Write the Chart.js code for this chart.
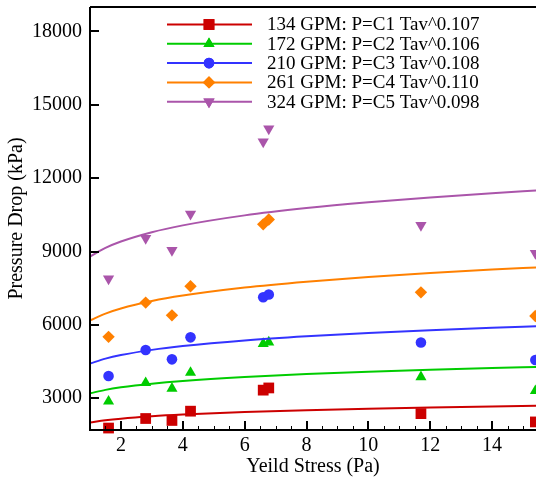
<!DOCTYPE html>
<html>
<head>
<meta charset="utf-8">
<script src="https://cdn.jsdelivr.net/npm/chart.js@4.4.1/dist/chart.umd.min.js"></script>
<style>
  html, body { margin:0; padding:0; background:#fff; }
  #wrap { width:536px; height:480px; }
</style>
</head>
<body>
<div id="wrap"><canvas id="chart"></canvas></div>
<script>

/* =========================================
   DATA
========================================= */

const seriesLabels = [
  "134 GPM: P=C1 Tav^0.107",
  "172 GPM: P=C2 Tav^0.106",
  "210 GPM: P=C3 Tav^0.108",
  "261 GPM: P=C4 Tav^0.110",
  "324 GPM: P=C5 Tav^0.098"
];

// measured points (yield stress, Pa)
const xStress = [1.6, 2.8, 3.65, 4.25, 6.6, 6.78, 11.7, 15.4];

const p134 = [1780, 2170, 2090, 2470, 3330, 3420, 2370, 2030];
const p172 = [2870, 3630, 3400, 4050, 5230, 5290, 3870, 3300];
const p210 = [3910, 4970, 4590, 5490, 7130, 7240, 5280, 4560];
const p261 = [5510, 6910, 6390, 7580, 10110, 10310, 7330, 6360];
const p324 = [7890, 9540, 9050, 10530, 13490, 14020, 10070, 8930];

// fitted curves
const fitX = [1, 1.5, 2, 3, 4, 6, 8, 10, 12, 14, 15.5];

const fit134 = [2010, 2099, 2165, 2261, 2331, 2435, 2511, 2572, 2622, 2666, 2695];
const fit172 = [3200, 3341, 3444, 3595, 3707, 3869, 3989, 4085, 4164, 4233, 4279];
const fit210 = [4420, 4618, 4764, 4977, 5134, 5364, 5533, 5668, 5781, 5878, 5943];
const fit261 = [6180, 6462, 6669, 6974, 7198, 7527, 7768, 7962, 8122, 8261, 8355];
const fit324 = [8790, 9146, 9408, 9789, 10069, 10478, 10777, 11015, 11213, 11384, 11498];

const xTicks = [2, 4, 6, 8, 10, 12, 14];
const yTicks = [3000, 6000, 9000, 12000, 15000, 18000];


/* =========================================
   STYLE
========================================= */

const colors   = ['#cc0000', '#00cc00', '#3333ff', '#ff8000', '#aa55aa'];
const shapes   = ['rect', 'triangle', 'circle', 'rectRot', 'triangle'];
const radii    = [7.6, 6.4, 5.3, 6.2, 6.5];
const rotation = [0, 0, 0, 0, 180];

const pointSets = [p134, p172, p210, p261, p324];
const fitSets   = [fit134, fit172, fit210, fit261, fit324];

const FONT = "'Liberation Serif', 'Times New Roman', serif";

function toXY(xs, ys){
  return xs.map((x,i) => ({x:x, y:ys[i]}));
}

const datasets = [];

fitSets.forEach((ys,i) => {
  datasets.push({
    type:'line',
    label:seriesLabels[i],
    data:toXY(fitX, ys),
    borderColor:colors[i],
    borderWidth:2,
    pointRadius:0,
    fill:false,
    cubicInterpolationMode:'monotone'
  });
});

pointSets.forEach((ys,i) => {
  datasets.push({
    type:'scatter',
    label:seriesLabels[i] + ' data',
    data:toXY(xStress, ys),
    showLine:false,
    pointStyle:shapes[i],
    pointRadius:radii[i],
    pointRotation:rotation[i],
    backgroundColor:colors[i],
    borderColor:colors[i],
    borderWidth:0,
    clip:false
  });
});


/* =========================================
   FRAME + TICKS + LEGEND
========================================= */

const framePlugin = {
  id:'frame',
  afterDraw(chart){
    const ctx = chart.ctx;
    const a = chart.chartArea;
    const xs = chart.scales.x;
    const ys = chart.scales.y;

    ctx.save();
    ctx.strokeStyle = '#000';
    ctx.lineWidth = 2;

    // axes + top line
    ctx.beginPath();
    ctx.moveTo(a.left, a.top);
    ctx.lineTo(a.right, a.top);
    ctx.moveTo(a.left, a.top);
    ctx.lineTo(a.left, a.bottom);
    ctx.lineTo(a.right, a.bottom);
    ctx.stroke();

    // major ticks, inside
    ctx.beginPath();
    xTicks.forEach(v => {
      const px = Math.round(xs.getPixelForValue(v));
      ctx.moveTo(px, a.bottom);
      ctx.lineTo(px, a.bottom - 9);
    });
    yTicks.forEach(v => {
      const py = Math.round(ys.getPixelForValue(v));
      ctx.moveTo(a.left, py);
      ctx.lineTo(a.left + 9, py);
    });
    ctx.stroke();

    // minor x ticks
    ctx.lineWidth = 1;
    ctx.beginPath();
    for(let v = 1.5; v < xs.max; v += 0.5){
      if(xTicks.indexOf(v) >= 0) continue;
      const px = Math.round(xs.getPixelForValue(v)) + 0.5;
      ctx.moveTo(px, a.bottom);
      ctx.lineTo(px, a.bottom - 4);
    }
    ctx.stroke();

    // legend
    const lx0 = 167, lx1 = 252, mx = 209, tx = 267;
    let ly = 24.5;
    ctx.font = "19px " + FONT;
    ctx.textBaseline = 'middle';
    ctx.textAlign = 'left';
    seriesLabels.forEach((lab,i) => {
      ctx.strokeStyle = colors[i];
      ctx.lineWidth = 2;
      ctx.beginPath();
      ctx.moveTo(lx0, ly);
      ctx.lineTo(lx1, ly);
      ctx.stroke();

      ctx.fillStyle = colors[i];
      Chart.helpers.drawPoint(ctx, {
        pointStyle:shapes[i],
        radius:radii[i],
        rotation:rotation[i],
        borderWidth:0
      }, mx, ly);
      ctx.fill();

      ctx.fillStyle = '#000';
      ctx.fillText(lab, tx, ly + 1);
      ly += 19.3;
    });

    ctx.restore();
  }
};


/* =========================================
   CHART
========================================= */

new Chart(document.getElementById('chart'), {
  type:'scatter',
  data:{ datasets:datasets },
  options:{
    responsive:true,
    maintainAspectRatio:false,
    animation:false,
    layout:{
      autoPadding:false,
      padding:{ top:7, right:0, left:0, bottom:0 }
    },
    plugins:{
      legend:{ display:false },
      tooltip:{ enabled:false }
    },
    scales:{
      x:{
        type:'linear',
        min:1,
        max:15.42,
        grid:{ display:false, drawTicks:false },
        border:{ display:false },
        afterBuildTicks:(s) => { s.ticks = xTicks.map(v => ({value:v})); },
        afterFit:(s) => {
          s.height = 50;
          s.paddingLeft = 0;
          s.paddingRight = 0;
        },
        ticks:{
          color:'#000',
          padding:4,
          callback:(v) => String(v),
          font:{ family:FONT, size:20 }
        },
        title:{
          display:true,
          text:'Yeild Stress (Pa)',
          color:'#000',
          padding:{ top:0, bottom:1 },
          font:{ family:FONT, size:20 }
        }
      },
      y:{
        type:'linear',
        min:1700,
        max:19000,
        grid:{ display:false, drawTicks:false },
        border:{ display:false },
        afterBuildTicks:(s) => { s.ticks = yTicks.map(v => ({value:v})); },
        afterFit:(s) => {
          s.width = 90;
          s.paddingTop = 0;
          s.paddingBottom = 0;
        },
        ticks:{
          color:'#000',
          padding:8,
          callback:(v) => String(v),
          font:{ family:FONT, size:20 }
        },
        title:{
          display:true,
          text:'Pressure Drop (kPa)',
          color:'#000',
          padding:{ top:5, bottom:0 },
          font:{ family:FONT, size:20 }
        }
      }
    }
  },
  plugins:[framePlugin]
});
</script>
</body>
</html>
